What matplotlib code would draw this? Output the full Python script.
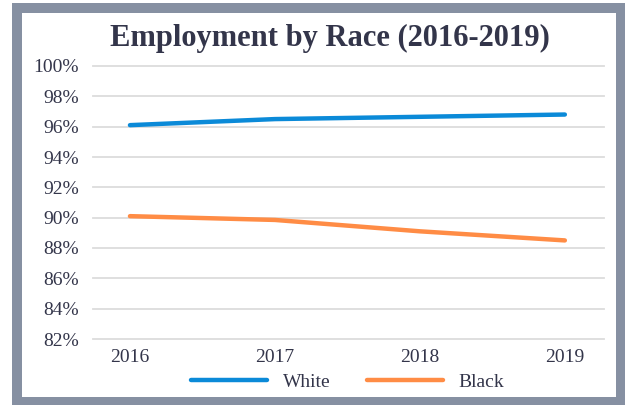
import matplotlib.pyplot as plt
from matplotlib.patches import Rectangle
from matplotlib.ticker import FuncFormatter

years = ['2016', '2017', '2018', '2019']
white = [96.1, 96.5, 96.65, 96.8]
black = [90.1, 89.85, 89.1, 88.5]
yticks = [82, 84, 86, 88, 90, 92, 94, 96, 98, 100]

plt.rcParams['font.family'] = ['Liberation Serif', 'DejaVu Serif']
text_color = '#33354a'

fig = plt.figure(figsize=(6.31, 4.05), dpi=100)
W, H = 631, 405

# gray frame around the chart
fig.patches.append(Rectangle((12 / W, 0), (625 - 12) / W, (405 - 3) / H,
                             transform=fig.transFigure, facecolor='#8690a2',
                             edgecolor='none', zorder=-2))
fig.patches.append(Rectangle((22 / W, (405 - 397) / H), (616 - 22) / W, (397 - 13) / H,
                             transform=fig.transFigure, facecolor='white',
                             edgecolor='none', zorder=-1))

ax = fig.add_axes([93 / W, 1 - 339 / H, (604 - 93) / W, (339 - 66) / H])
ax.set_facecolor('none')
ax.set_zorder(2)

x = range(len(years))
ax.plot(x, white, color='#0b8ad8', lw=3.2, solid_capstyle='round', label='White')
ax.plot(x, black, color='#ff8c45', lw=3.2, solid_capstyle='round', label='Black')

ax.set_xlim(-0.255, 3.27)
ax.set_ylim(82, 100)
ax.set_yticks(yticks)
ax.yaxis.set_major_formatter(FuncFormatter(lambda v, p: f'{v:.0f}%'))
ax.set_xticks(list(x))
ax.set_xticklabels(years)
ax.grid(axis='y', color='#dcdcdc', lw=1.3)
ax.set_axisbelow(True)
for s in ax.spines.values():
    s.set_visible(False)
ax.tick_params(length=0, labelsize=14, labelcolor=text_color)
ax.tick_params(axis='y', pad=10)
ax.tick_params(axis='x', pad=7)
for g in ax.get_ygridlines():
    g.set_clip_on(False)

fig.text(330 / W, 1 - 38 / H, 'Employment by Race (2016-2019)', ha='center', va='center',
         fontsize=22, fontweight='bold', color=text_color, zorder=3)

ax.legend(loc='center', bbox_to_anchor=(348 / W, 1 - 382 / H), bbox_transform=fig.transFigure,
          ncol=2, frameon=False, fontsize=14, handlelength=3.9, columnspacing=1.9,
          labelcolor=text_color)

fig.savefig('out.png', dpi=100)
